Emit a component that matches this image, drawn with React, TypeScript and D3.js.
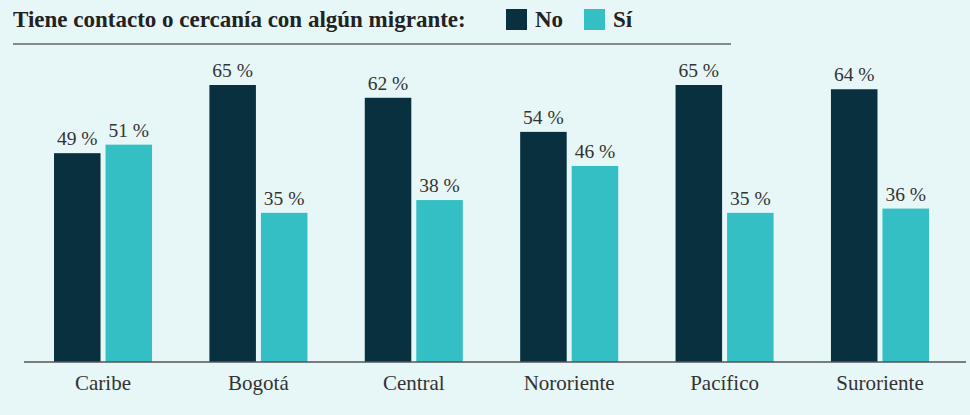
import React from 'react'
import * as d3 from 'd3'

const regions = ['Caribe', 'Bogotá', 'Central', 'Nororiente', 'Pacífico', 'Suroriente']
const noValues = [49, 65, 62, 54, 65, 64]
const siValues = [51, 35, 38, 46, 35, 36]
const seriesNames = ['No', 'Sí']
const seriesColors = ['#08303e', '#33bfc3']
const title = 'Tiene contacto o cercanía con algún migrante:'

const W = 970
const H = 415
const base = 362
const font = '"Liberation Serif", "DejaVu Serif", serif'

export default function App() {
  const x = d3.scaleBand().domain(regions).range([54, 929]).paddingInner(0.369).paddingOuter(0)
  const inner = d3.scaleBand().domain(seriesNames).range([0, x.bandwidth()]).paddingInner(0.097)
  const y = d3.scaleLinear().domain([0, 65]).range([base, 85])
  const rows = regions.map((r, i) => ({ region: r, values: [noValues[i], siValues[i]] }))

  return (
    <svg width={W} height={H} style={{ position: 'absolute', left: 0, top: 0, background: '#e7f7f7' }}>
      <rect width={W} height={H} fill="#e7f7f7" />
      <text x={13} y={27} fontFamily={font} fontWeight="bold" fontSize={23} fill="#222">{title}</text>
      {seriesNames.map((s, i) => {
        const lx = i === 0 ? 506 : 584
        return (
          <g key={s}>
            <rect x={lx} y={9} width={21} height={21} fill={seriesColors[i]} />
            <text x={lx + 29} y={27} fontFamily={font} fontWeight="bold" fontSize={23} fill="#222">{s}</text>
          </g>
        )
      })}
      <line x1={13} x2={731} y1={44} y2={44} stroke="#222" strokeWidth={1.2} />
      {rows.map((row) => (
        <g key={row.region} transform={`translate(${x(row.region)},0)`}>
          {row.values.map((v, j) => (
            <g key={seriesNames[j]}>
              <rect
                x={inner(seriesNames[j])} y={y(v)}
                width={inner.bandwidth()} height={base - y(v)}
                fill={seriesColors[j]}
              />
              <text
                x={(inner(seriesNames[j]) || 0) + inner.bandwidth() / 2} y={y(v) - 8}
                textAnchor="middle" fontFamily={font} fontSize={19.5} fill="#333"
              >{`${v} %`}</text>
            </g>
          ))}
          <text x={x.bandwidth() / 2} y={390} textAnchor="middle" fontFamily={font} fontSize={21} fill="#333">{row.region}</text>
        </g>
      ))}
      <line x1={24} x2={966} y1={base} y2={base} stroke="#555" strokeWidth={1.3} />
    </svg>
  )
}
